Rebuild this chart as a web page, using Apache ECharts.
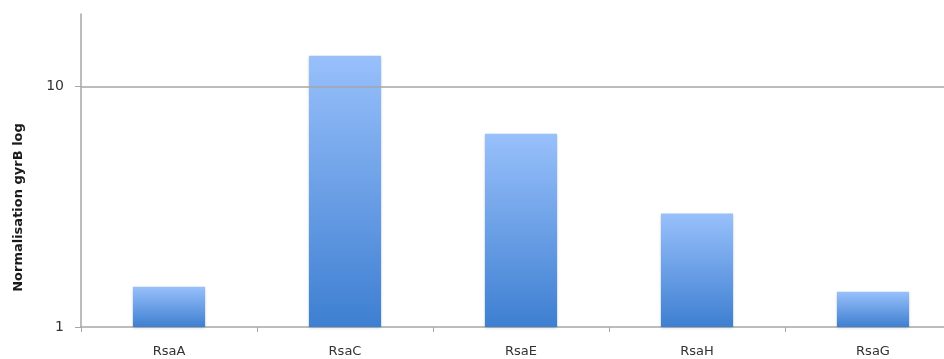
<!DOCTYPE html>
<html>
<head>
<meta charset="utf-8">
<script src="https://cdn.jsdelivr.net/npm/echarts@6/dist/echarts.min.js"></script>
<style>html,body{margin:0;padding:0;background:#fff}#c{width:944px;height:359px}</style>
</head>
<body>
<div id="c"></div>
<script>
const categories = ['RsaA', 'RsaC', 'RsaE', 'RsaH', 'RsaG'];
const values = [1.47, 13.4, 6.35, 2.96, 1.40];
const yTickValues = [1, 10];
const gridValue = 10;

const chart = echarts.init(document.getElementById('c'), null, {renderer: 'canvas'});
chart.setOption({
  animation: false,
  grid: {left: 81, top: 14, width: 880, height: 313, containLabel: false, outerBoundsMode: 'none'},
  xAxis: {
    type: 'category',
    data: categories,
    axisLine: {show: true, lineStyle: {color: '#a6a6a6', width: 1.5}},
    axisTick: {show: true, alignWithLabel: false, length: 5, lineStyle: {color: '#a6a6a6'}},
    axisLabel: {color: '#333', fontFamily: 'DejaVu Sans', fontSize: 13, margin: 18},
    splitLine: {show: false}
  },
  yAxis: {
    type: 'log',
    logBase: 10,
    min: 1,
    max: 20,
    name: 'Normalisation gyrB log',
    nameLocation: 'middle',
    nameGap: 56,
    nameRotate: 90,
    nameTextStyle: {color: '#1a1a1a', fontFamily: 'DejaVu Sans', fontSize: 13, fontWeight: 'bold', padding: [0, 0, 0, -74]},
    axisLine: {show: true, lineStyle: {color: '#a6a6a6', width: 1.5}},
    axisTick: {show: true, length: 6, customValues: yTickValues, lineStyle: {color: '#a6a6a6'}},
    axisLabel: {color: '#333', fontFamily: 'DejaVu Sans', fontSize: 14, margin: 17, customValues: yTickValues},
    splitLine: {show: false}
  },
  series: [{
    type: 'bar',
    data: values,
    barWidth: '41%',
    itemStyle: {
      color: new echarts.graphic.LinearGradient(0, 0, 0, 1, [
        {offset: 0, color: '#98c0fb'},
        {offset: 1, color: '#3e7fd1'}
      ]),
      shadowColor: 'rgba(0,0,0,0.25)',
      shadowBlur: 3,
      shadowOffsetY: 1
    },
    markLine: {
      silent: true,
      symbol: 'none',
      label: {show: false},
      lineStyle: {color: '#a6a6a6', width: 1.5, type: 'solid'},
      data: [{yAxis: gridValue}]
    },
    z: 3
  }]
});
</script>
</body>
</html>
